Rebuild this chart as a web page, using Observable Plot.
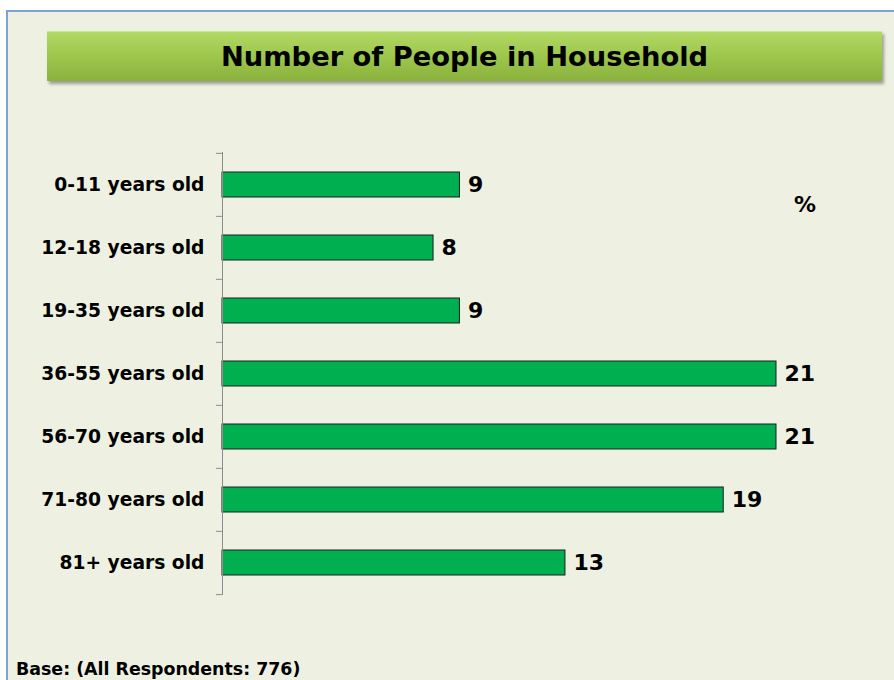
<!DOCTYPE html>
<html>
<head>
<meta charset="utf-8">
<script src="https://cdn.jsdelivr.net/npm/d3@7"></script>
<script src="https://cdn.jsdelivr.net/npm/@observablehq/plot@0.6"></script>
<style>
  html, body { margin: 0; padding: 0; background: #ffffff; }
  #wrap { position: relative; width: 894px; height: 680px; overflow: hidden; font-family: "DejaVu Sans", Verdana, sans-serif; }
  #frame { position: absolute; left: 6px; top: 10px; width: 900px; height: 700px; background: #EEF1E2; border-left: 2px solid #7EA2D4; border-top: 2px solid #7EA2D4; }
  #title { position: absolute; left: 47px; top: 31px; width: 835px; height: 50px; box-sizing: border-box;
    background: linear-gradient(#B2D963, #9DC64C 50%, #8AB23D);
    border-top: 1px solid #CBE98F; box-shadow: 2px 3px 3px rgba(0,0,0,0.35);
    display: flex; align-items: center; justify-content: center;
    font-weight: bold; font-size: 27.3px; color: #000; z-index: 2; }
  #chart { position: absolute; left: 0; top: 0; z-index: 1; }
  #pct { position: absolute; left: 794px; top: 192px; font-weight: bold; font-size: 22px; z-index: 2; }
  #base { position: absolute; left: 16px; top: 659px; font-weight: bold; font-size: 17.4px; z-index: 2; white-space: nowrap; }
</style>
</head>
<body>
<div id="wrap">
  <div id="frame"></div>
  <div id="title">Number of People in Household</div>
  <div id="chart"></div>
  <div id="pct">%</div>
  <div id="base">Base: (All Respondents: 776)</div>
</div>
<script>
const categories = ["0-11 years old", "12-18 years old", "19-35 years old", "36-55 years old", "56-70 years old", "71-80 years old", "81+ years old"];
const values = [9, 8, 9, 21, 21, 19, 13];
const xMax = 21;

const data = categories.map((c, i) => ({category: c, value: values[i]}));

const W = 894, H = 680, MT = 152, MB = 85, ML = 222, MR = 118;
const step = (H - MT - MB) / categories.length;
const fontFam = '"DejaVu Sans", Verdana, sans-serif';

const chart = Plot.plot({
  width: W,
  height: H,
  marginTop: MT,
  marginBottom: MB,
  marginLeft: ML,
  marginRight: MR,
  style: {background: "transparent", fontFamily: fontFam, color: "#000"},
  x: {domain: [0, xMax], axis: null},
  y: {domain: categories, paddingInner: 0.6, paddingOuter: 0.3, align: 0.5, label: null},
  marks: [
    Plot.barX(data, {x: "value", y: "category", fill: "#00B050", stroke: "#1c1c1c", strokeWidth: 1}),
    Plot.text(data, {x: "value", y: "category", text: d => String(d.value), textAnchor: "start", dx: 8, fontSize: 22, fontWeight: "bold", fill: "#000"}),
    Plot.ruleX([0], {stroke: "#8c8c8c", strokeWidth: 1}),
    Plot.axisY({tickSize: 6, text: null, dy: -step / 2, stroke: "#8c8c8c", strokeOpacity: 1, label: null}),
    Plot.axisY({ticks: [categories[categories.length - 1]], tickSize: 6, text: null, dy: step / 2, stroke: "#8c8c8c", strokeOpacity: 1, label: null}),
    Plot.axisY({tickSize: 0, tickPadding: 18, fontSize: 18.7, fontWeight: "bold", fill: "#000", label: null})
  ]
});
document.getElementById("chart").append(chart);
</script>
</body>
</html>
